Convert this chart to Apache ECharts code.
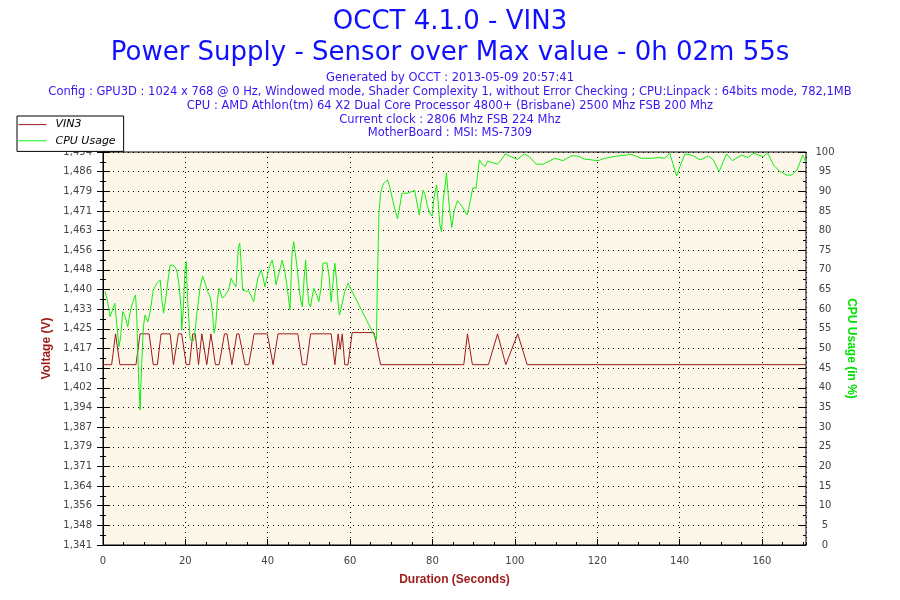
<!DOCTYPE html>
<html><head><meta charset="utf-8">
<script src="https://cdn.jsdelivr.net/npm/echarts@6/dist/echarts.min.js"></script>
<style>html,body{margin:0;padding:0;background:#fff}#c{width:900px;height:600px}</style>
</head><body><div id="c"></div>
<script>
// ---- texts ----
const titleMain = 'OCCT 4.1.0 - VIN3';
const titleSub = 'Power Supply - Sensor over Max value - 0h 02m 55s';
const infoLines = [
  'Generated by OCCT : 2013-05-09 20:57:41',
  'Config : GPU3D : 1024 x 768 @ 0 Hz, Windowed mode, Shader Complexity 1, without Error Checking ; CPU:Linpack : 64bits mode, 782,1MB',
  'CPU : AMD Athlon(tm) 64 X2 Dual Core Processor 4800+ (Brisbane) 2500 Mhz FSB 200 Mhz',
  'Current clock : 2806 Mhz FSB 224 Mhz',
  'MotherBoard : MSI: MS-7309'
];
const seriesNames = ['VIN3', 'CPU Usage'];

// ---- axes ----
const voltTickLabels = ['1,341','1,348','1,356','1,364','1,371','1,379','1,387','1,394','1,402','1,410',
  '1,417','1,425','1,433','1,440','1,448','1,456','1,463','1,471','1,479','1,486','1,494'];
const VOLT_MIN = 1.3408, VOLT_MAX = 1.4938;
const X_MAX = 170.7;

// ---- data: [seconds, value] ----
const vin3Samples = [[0,1.411],[2.1,1.411],[3.05,1.423],[4.1,1.411],[8.0,1.411],[9.0,1.423],[11.2,1.423],
  [12.2,1.411],[13.2,1.411],[14.1,1.423],[16.3,1.423],[17.1,1.411],[18.3,1.423],[19.1,1.423],[20.2,1.411],
  [21.0,1.411],[21.8,1.423],[22.4,1.423],[23.2,1.411],[24.0,1.423],[25.2,1.411],[26.2,1.423],[27.3,1.411],
  [28.2,1.411],[29.5,1.423],[30.1,1.423],[31.3,1.411],[32.5,1.423],[33.0,1.423],[34.5,1.411],[35.4,1.411],
  [36.7,1.423],[39.9,1.423],[41.3,1.411],[42.5,1.423],[47.3,1.423],[48.4,1.411],[49.4,1.411],[50.4,1.423],
  [55.4,1.423],[56.3,1.411],[57.1,1.423],[57.6,1.417],[58.1,1.423],[58.7,1.411],[59.5,1.411],[60.5,1.4235],
  [65.8,1.4235],[67.4,1.411],[87.6,1.411],[88.5,1.423],[89.7,1.411],[93.6,1.411],[95.8,1.423],[97.8,1.411],
  [100.7,1.423],[103.0,1.411],[170.7,1.411]];

const cpuSamples = [[0.5,64.5],[1.05,62.3],[1.7,58.1],[2.3,59.8],[2.9,61.5],[3.3,56.4],[3.9,50.5],[4.3,53],
  [4.8,59.4],[5.4,58.1],[6.0,55.5],[6.7,59.8],[7.4,62.3],[7.9,63.6],[8.2,58.1],[8.6,43.7],[9.0,34.4],[9.4,46.2],
  [9.8,55.5],[10.2,58.5],[10.9,56.8],[11.4,59],[12.2,64.9],[13.1,66.6],[13.9,67.4],[14.3,62.3],[14.7,59],
  [15.3,63.2],[15.9,68.3],[16.3,71.2],[17.1,71.2],[17.9,70],[18.5,65.7],[19.0,59.8],[19.1,54.7],[19.5,59.8],
  [19.9,70],[20.2,72.1],[20.5,63.2],[21.0,54.7],[21.2,52.2],[22.0,52],[22.4,54.7],[22.8,59],[23.6,65.7],
  [24.2,68.4],[24.8,66.6],[25.6,64],[26.1,62.8],[26.5,59.8],[27.0,53.9],[27.4,56.4],[27.8,62.3],[28.2,65.3],
  [29.0,62.8],[29.7,63.6],[30.5,64.9],[31.1,67.9],[31.7,66.6],[32.3,65.7],[32.5,70],[32.9,75.9],[33.2,76.8],
  [33.5,72.5],[33.9,64.9],[34.6,64.6],[35.4,64.6],[36.2,62.8],[36.6,61.9],[37.0,64.5],[37.6,67.9],[38.4,70],
  [38.9,67.9],[39.3,65.7],[39.8,67.9],[40.4,70.8],[41.1,72.5],[41.5,70.4],[42.0,66.2],[42.7,69.1],[43.5,72.5],
  [44.1,70],[44.7,65.7],[45.4,59.8],[45.9,74.2],[46.3,77.2],[46.7,74.2],[47.2,70],[47.6,65.7],[48.0,62.3],
  [48.4,60.6],[48.8,67.4],[49.2,72.5],[49.6,65.7],[50.0,61.5],[50.4,60.6],[50.8,63.2],[51.2,65.3],[51.9,63.6],
  [52.4,61.9],[53.0,65.7],[53.4,71.7],[54.4,71.8],[54.9,68.3],[55.4,61.9],[55.9,67.4],[56.3,71.7],[56.7,67.4],
  [57.1,61.5],[57.4,58.5],[58.1,61.5],[58.7,64.5],[59.5,66.6],[66.4,52.2],[66.6,65.7],[67.0,84.4],[67.4,89.5],
  [68.1,92],[69.1,92.9],[69.6,91.2],[70.7,86.1],[71.5,83],[71.9,85.2],[72.6,89.5],[73.9,89.5],[75.7,90.2],
  [76.1,87.8],[76.8,84],[77.2,87],[77.7,90.3],[78.2,89.1],[78.8,86.1],[79.4,84.4],[79.9,83.7],[80.4,88.6],
  [81.0,91.6],[81.4,87],[81.8,81.4],[82.2,79.7],[82.6,87.8],[83.0,90.8],[83.4,94.6],[83.8,89.5],[84.2,84.8],
  [84.7,80.8],[85.3,85.2],[86.1,87.6],[87.2,86.1],[88.4,84],[88.9,86.1],[89.8,90.9],[90.6,90.8],[91.0,94.6],
  [91.4,98],[92.0,97],[92.8,96.3],[93.4,97.7],[94.6,97.3],[95.8,96.9],[96.7,98],[97.7,99.5],[99.1,98.8],
  [100.6,98.1],[102.3,99.5],[103.5,98.8],[105.2,96.9],[106.8,96.9],[108.0,97.5],[109.7,98.4],[111.7,97.8],
  [113.7,99],[115.3,99],[116.9,98.2],[120.2,97.8],[121.8,98.4],[125.0,99],[128.3,99.4],[130.7,98.4],
  [133.2,98.4],[134.8,98.6],[136.4,98.4],[137.6,99.7],[139.3,93.9],[140.1,96.3],[141.3,99.5],[143.0,99.2],
  [145.0,98],[147.0,99],[148.2,98],[149.6,95],[150.6,97.5],[151.4,99.5],[152.8,97.8],[155.1,99.2],[156.7,98.6],
  [157.9,99.7],[160.3,98.8],[161.4,99.7],[162.8,96.7],[164.4,95],[166.1,94.1],[167.1,94.1],[168.5,95.4],
  [169.9,99.2],[170.7,97.5]];

// ---- styles ----
const RED = '#9c1a1a', GREEN = '#11ee11', BLUE = '#1010ff', INFO = '#3a14f0';
const LABEL_FONT = 'DejaVu Sans';
const voltStep = (VOLT_MAX - VOLT_MIN) / (voltTickLabels.length - 1);
const voltTickValues = voltTickLabels.map((_, i) => VOLT_MIN + i * voltStep);

const titles = [
  {text: titleMain, left: 'center', top: 7, padding: 0,
   textStyle: {fontFamily: 'DejaVu Sans', fontSize: 26, fontWeight: 'normal', color: BLUE, lineHeight: 30}},
  {text: titleSub, left: 'center', top: 38, padding: 0,
   textStyle: {fontFamily: 'DejaVu Sans', fontSize: 26, fontWeight: 'normal', color: BLUE, lineHeight: 30}}
];
const infoTops = [71, 85, 99, 113, 126];
infoLines.forEach((t, i) => titles.push({text: t, left: 'center', top: infoTops[i], padding: 0,
  textStyle: {fontFamily: 'DejaVu Sans', fontSize: 11.5, fontWeight: 'normal', color: INFO, lineHeight: 14}}));

const pctAxisBase = {type: 'value', min: 0, max: 100, interval: 5, axisLabel: {show: false},
  splitLine: {show: false}, axisLine: {show: false}};

const chart = echarts.init(document.getElementById('c'), null, {renderer: 'canvas'});
chart.setOption({
  animation: false,
  backgroundColor: '#fff',
  title: titles,
  legend: {
    orient: 'vertical', left: 17, top: 116, padding: [3, 8, 5, 1], itemGap: 5,
    itemWidth: 28, itemHeight: 14, backgroundColor: '#fff', borderColor: '#000', borderWidth: 1,
    borderRadius: 0, selectedMode: false, data: seriesNames,
    itemStyle: {opacity: 0, borderWidth: 0},
    lineStyle: {width: 1},
    textStyle: {fontFamily: 'DejaVu Sans', fontSize: 11, fontStyle: 'italic', color: '#000', padding: [0,0,0,4]}
  },
  grid: {left: 103, right: 94, top: 152, bottom: 55, show: true, backgroundColor: '#fdf7ea',
    borderColor: '#000', borderWidth: 1},
  xAxis: [{
    type: 'value', min: 0, max: X_MAX, interval: 20,
    name: 'Duration (Seconds)', nameLocation: 'middle', nameGap: 29,
    nameTextStyle: {fontFamily: 'Liberation Sans', fontSize: 12, fontWeight: 'bold', color: RED},
    axisLine: {lineStyle: {color: '#000', width: 1}},
    axisTick: {inside: true, length: 6, lineStyle: {color: '#000'}},
    axisLabel: {showMaxLabel: false, margin: 11, fontFamily: LABEL_FONT, fontSize: 10, color: '#444',
      formatter: v => (v % 20 === 0 ? String(v) : '')},
    splitLine: {show: true, lineStyle: {color: '#000', type: [1, 4], width: 1}}
  }, {
    type: 'value', min: 0, max: X_MAX, interval: 5, position: 'bottom',
    axisLine: {show: false}, axisLabel: {show: false}, splitLine: {show: false},
    axisTick: {inside: true, length: 3, lineStyle: {color: '#000'}}
  }],
  yAxis: [{
    type: 'value', min: VOLT_MIN, max: VOLT_MAX, position: 'left',
    name: 'Voltage (V)', nameLocation: 'middle', nameGap: 44, nameRotate: 90,
    nameTextStyle: {fontFamily: 'Liberation Sans', fontSize: 12, fontWeight: 'bold', color: RED},
    axisLine: {show: true, lineStyle: {color: '#000'}},
    axisTick: {show: false},
    axisLabel: {customValues: voltTickValues, margin: 11, fontFamily: LABEL_FONT, fontSize: 10, color: '#444',
      formatter: v => voltTickLabels[Math.round((v - VOLT_MIN) / voltStep)]},
    splitLine: {show: false}
  }, {
    type: 'value', min: 0, max: 100, interval: 5, position: 'right',
    name: 'CPU Usage (in %)', nameLocation: 'middle', nameGap: 33, nameRotate: -90,
    nameTextStyle: {fontFamily: 'Liberation Sans', fontSize: 12, fontWeight: 'bold', color: '#00e000'},
    axisLine: {show: true, lineStyle: {color: '#000'}},
    axisTick: {length: 7, lineStyle: {color: '#000'}},
    minorTick: {show: true, splitNumber: 2, length: 3, lineStyle: {color: '#000'}},
    axisLabel: {margin: 19, align: 'center', fontFamily: LABEL_FONT, fontSize: 10, color: '#444'},
    splitLine: {show: true, lineStyle: {color: '#000', type: [1, 4], width: 1}}
  },
  Object.assign({}, pctAxisBase, {position: 'right',
    axisTick: {inside: true, length: 8, lineStyle: {color: '#000'}},
    minorTick: {show: true, splitNumber: 2, length: 3, lineStyle: {color: '#000'}}}),
  Object.assign({}, pctAxisBase, {position: 'left',
    axisTick: {inside: false, length: 6, lineStyle: {color: '#000'}},
    minorTick: {show: true, splitNumber: 2, length: 3, lineStyle: {color: '#000'}}}),
  Object.assign({}, pctAxisBase, {position: 'left',
    axisTick: {inside: true, length: 3, lineStyle: {color: '#000'}},
    minorTick: {show: true, splitNumber: 2, length: 2, lineStyle: {color: '#000'}}})
  ],
  series: [{
    name: seriesNames[0], type: 'line', yAxisIndex: 0, data: vin3Samples, symbol: 'none',
    lineStyle: {color: RED, width: 1}, itemStyle: {color: RED}, z: 3
  }, {
    name: seriesNames[1], type: 'line', yAxisIndex: 1, data: cpuSamples, symbol: 'none',
    lineStyle: {color: GREEN, width: 1}, itemStyle: {color: GREEN}, z: 4
  }]
});
</script></body></html>
